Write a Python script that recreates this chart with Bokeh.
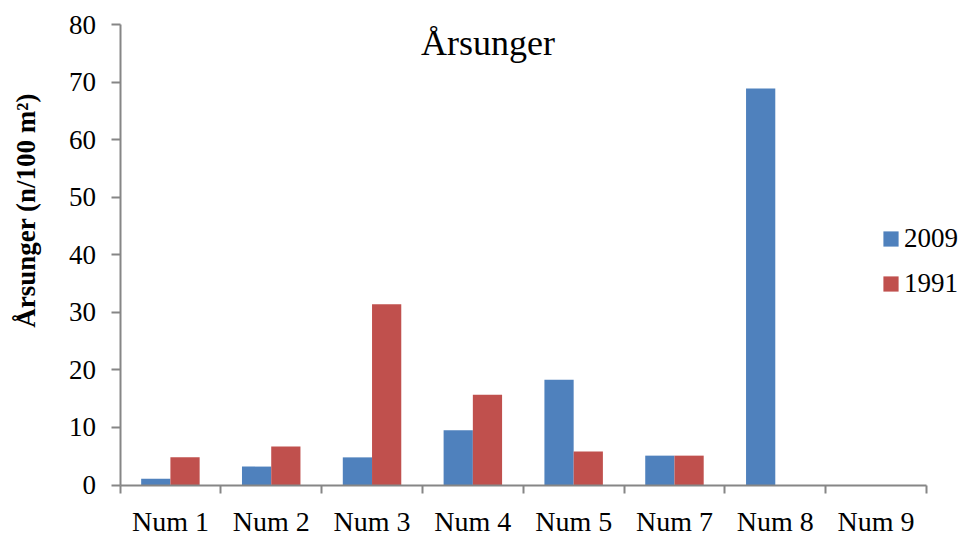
import math
from bokeh.plotting import figure
from bokeh.models import (ColumnDataSource, FixedTicker, Range1d, Label,
                          Legend, LegendItem)
from bokeh.embed import file_html
from bokeh.resources import INLINE

# Young-of-the-year density per station, two survey years
categories = ["Num 1", "Num 2", "Num 3", "Num 4", "Num 5", "Num 7", "Num 8", "Num 9"]
y2009 = [1.1, 3.2, 4.8, 9.5, 18.3, 5.1, 68.9, 0.0]
y1991 = [4.8, 6.7, 31.4, 15.7, 5.8, 5.1, 0.0, 0.0]
y_ticks = [0, 10, 20, 30, 40, 50, 60, 70, 80]

FONT = "Liberation Serif"
AXIS_GREY = "#868686"
BLUE = "#4F81BD"
RED = "#C0504D"

W, H = 963, 537
# frame fills the whole canvas; axes are pinned at the data origin
X0_PX, X1_PX = 119.5, 926.0      # horizontal extent of the category axis
Y0_PX, Y80_PX = 484.5, 24.0      # pixel rows of y = 0 and y = 80

n = len(categories)
px_x = (X1_PX - X0_PX) / n
px_y = (Y0_PX - Y80_PX) / 80.0
x_range = Range1d(-X0_PX / px_x, (W - X0_PX) / px_x)
y_range = Range1d(-(H - Y0_PX) / px_y, 80 + Y80_PX / px_y)

centers = [i + 0.5 for i in range(n)]
bar_w = 0.29

src = ColumnDataSource(dict(
    x2009=[c - bar_w / 2 for c in centers],
    x1991=[c + bar_w / 2 for c in centers],
    v2009=y2009,
    v1991=y1991,
))

p = figure(width=W, height=H, output_backend="svg", toolbar_location=None,
           x_range=x_range, y_range=y_range,
           min_border=0, min_border_left=0, min_border_right=0,
           min_border_top=0, min_border_bottom=0)
p.outline_line_color = None
p.grid.visible = False
p.background_fill_color = "white"
p.border_fill_color = "white"

r09 = p.vbar(x="x2009", top="v2009", width=bar_w, source=src,
             fill_color=BLUE, line_color=None)
r91 = p.vbar(x="x1991", top="v1991", width=bar_w, source=src,
             fill_color=RED, line_color=None)

# x axis: labels centred under each group, tick marks on the group boundaries
xax = p.xaxis[0]
xax.fixed_location = 0
xax.bounds = (0, n)
xax.ticker = FixedTicker(ticks=centers, minor_ticks=list(range(n + 1)))
xax.major_label_overrides = {c: lab for c, lab in zip(centers, categories)}
xax.major_tick_line_color = None
xax.major_tick_out = 8
xax.major_tick_in = 0
xax.minor_tick_line_color = AXIS_GREY
xax.minor_tick_line_width = 2
xax.minor_tick_out = 8
xax.minor_tick_in = 0
xax.axis_line_color = AXIS_GREY
xax.axis_line_width = 2
xax.major_label_text_font = FONT
xax.major_label_text_font_size = "28px"
xax.major_label_text_color = "black"
xax.major_label_standoff = 13

# y axis
yax = p.yaxis[0]
yax.fixed_location = 0
yax.bounds = (0, 80)
yax.ticker = FixedTicker(ticks=y_ticks)
yax.axis_line_color = AXIS_GREY
yax.axis_line_width = 2
yax.major_tick_line_color = AXIS_GREY
yax.major_tick_line_width = 2
yax.major_tick_out = 9
yax.major_tick_in = 0
yax.minor_tick_line_color = None
yax.major_label_text_font = FONT
yax.major_label_text_font_size = "27px"
yax.major_label_text_color = "black"
yax.major_label_standoff = 15

# chart title
p.add_layout(Label(x=3.65, y=76.7, text="Årsunger", text_font=FONT,
                   text_font_size="36px", text_color="black",
                   text_align="center", text_baseline="middle"))

# vertical axis title
p.add_layout(Label(x=(25 - X0_PX) / px_x, y=47.7, text="Årsunger (n/100 m²)",
                   text_font=FONT, text_font_size="27px",
                   text_font_style="bold", text_color="black",
                   angle=math.pi / 2, text_align="center",
                   text_baseline="middle"))

legend = Legend(items=[LegendItem(label="2009", renderers=[r09]),
                       LegendItem(label="1991", renderers=[r91])],
                location=(881, 238), orientation="vertical",
                glyph_width=19, glyph_height=19, label_standoff=4,
                label_text_font=FONT, label_text_font_size="27px",
                label_text_color="black", spacing=14, padding=0, margin=0,
                border_line_color=None, background_fill_alpha=0)
p.add_layout(legend, "center")

open("out.html", "w").write(file_html(p, INLINE))
